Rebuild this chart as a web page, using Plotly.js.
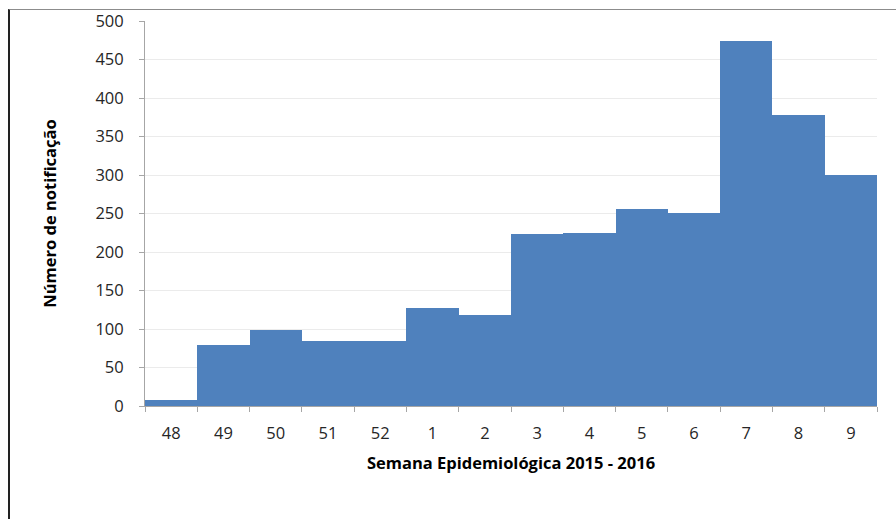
<!DOCTYPE html>
<html><head><meta charset="utf-8">
<script src="https://cdn.plot.ly/plotly-3.0.1.min.js"></script>
<style>
html,body{margin:0;padding:0;background:#fff;}
#frame{position:absolute;left:8px;top:9px;width:888px;height:510px;border-top:1px solid #8c8c8c;border-left:2px solid #222;box-sizing:border-box;}
#chart{position:absolute;left:0;top:0;width:896px;height:519px;}
</style></head>
<body>
<div id="chart"></div>
<div id="frame"></div>
<script>
const semanas = ["48","49","50","51","52","1","2","3","4","5","6","7","8","9"];
const notificacoes = [8, 79, 99, 85, 85, 127, 118, 224, 225, 256, 251, 474, 378, 300];
const yTicks = [0,50,100,150,200,250,300,350,400,450,500];

const trace = {
  type: "bar",
  x: semanas,
  y: notificacoes,
  marker: {color: "#4f81bd", line: {width: 0}},
  hoverinfo: "x+y"
};
const layout = {
  width: 896, height: 519,
  margin: {l: 145, r: 19, t: 21, b: 113},
  paper_bgcolor: "rgba(0,0,0,0)", plot_bgcolor: "#fff",
  bargap: 0,
  showlegend: false,
  font: {family: "Open Sans, Liberation Sans, sans-serif", color: "#404040"},
  xaxis: {
    type: "category",
    tickson: "boundaries",
    ticks: "outside", ticklen: 5, tickcolor: "#a6a6a6",
    showline: true, linecolor: "#a6a6a6", linewidth: 1,
    showgrid: false,
    ticklabelstandoff: 12,
    tickfont: {size: 16.5, color: "#262626"},
    title: {text: "<b>Semana Epidemiológica 2015 - 2016</b>", font: {size: 16.5, color: "#000"}, standoff: 14}
  },
  yaxis: {
    range: [0, 500],
    tickvals: yTicks,
    ticks: "outside", ticklen: 5, tickcolor: "#a6a6a6",
    showline: true, linecolor: "#a6a6a6", linewidth: 1,
    showgrid: true, gridcolor: "#ebebeb", gridwidth: 1,
    zeroline: false,
    ticklabelstandoff: 12,
    tickfont: {size: 16.5, color: "#262626"},
    title: {text: "<b>Número de notificação</b>", font: {size: 16.5, color: "#000"}, standoff: 34}
  }
};
Plotly.newPlot("chart", [trace], layout, {displayModeBar: false, staticPlot: true});
</script>
</body></html>
